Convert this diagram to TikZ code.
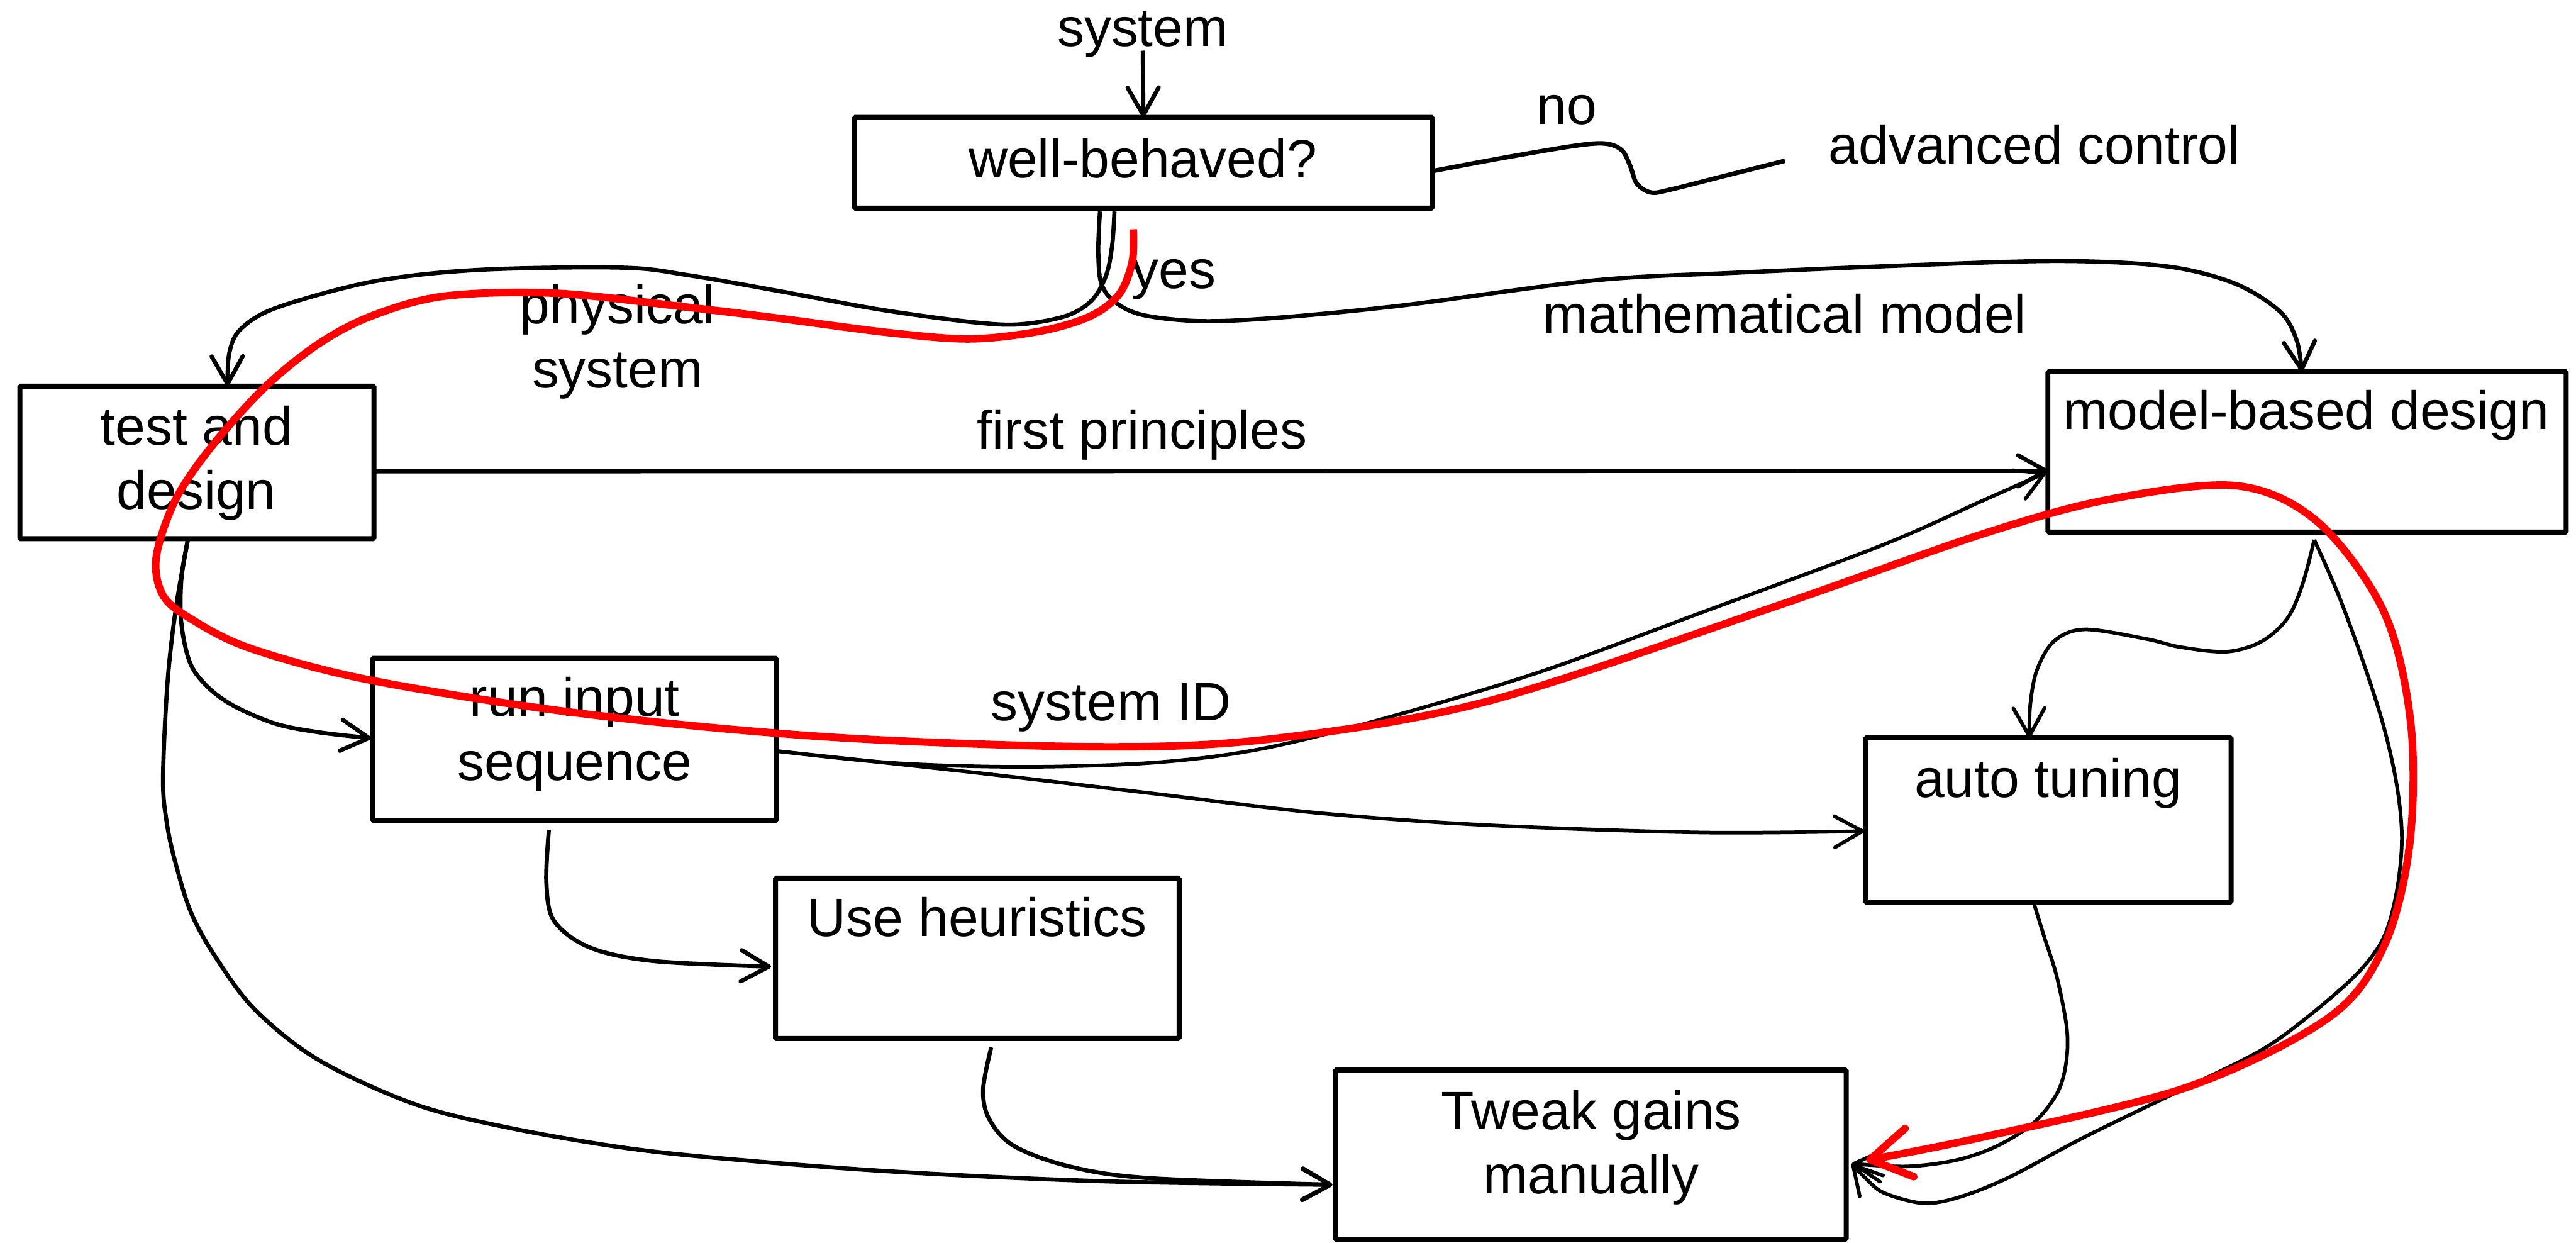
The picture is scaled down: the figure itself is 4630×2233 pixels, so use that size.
\documentclass[tikz,border=0pt]{standalone}
\usepackage{fontspec}
\setmainfont{Liberation Sans}
\usetikzlibrary{arrows.meta,calc}
\begin{document}
\begin{tikzpicture}[x=0.01cm,y=-0.01cm,
  box/.style={draw, line width=0.09cm, rounded corners=0.02cm, inner sep=0pt, outer sep=0pt},
  lbl/.style={font=\fontsize{27.6}{33}\selectfont, inner sep=0pt, anchor=base},
  conn/.style={line width=0.075cm, line join=round, -{Straight Barb[round,length=0.5cm,width=0.56cm]}},
  thinconn/.style={conn, line width=0.065cm},
  wire/.style={line width=0.08cm, line join=round},
  redconn/.style={draw=red, line width=0.135cm, line join=round, -{Straight Barb[round,length=0.72cm,width=0.88cm]}},
  smoothy/.style={smooth, tension=0.55}
]
\useasboundingbox (0,0) rectangle (4630,2233);

% boxes
\node[box, minimum width=10.38cm, minimum height=1.63cm] (wb)  at (2055,292.5) {};
\node[box, minimum width=6.36cm,  minimum height=2.74cm] (td)  at (354,831) {};
\node[box, minimum width=9.31cm,  minimum height=2.88cm] (mbd) at (4146.5,812) {};
\node[box, minimum width=6.57cm,  minimum height=2.95cm] (aut) at (3681.5,1473.5) {};
\node[box, minimum width=7.25cm,  minimum height=2.91cm] (ris) at (1032.5,1328.5) {};
\node[box, minimum width=7.25cm,  minimum height=2.88cm] (uh)  at (1756.5,1722) {};
\node[box, minimum width=9.18cm,  minimum height=3.04cm] (tg)  at (2859,2075) {};

% texts
\node[lbl] (tsys) at (2054,83) {system};
\node[lbl] (twb) at (2054,319) {well-behaved?};
\node[lbl] (tno) at (2816,223) {no};
\node[lbl, anchor=base west] (tadv) at (3286,294) {advanced control};
\node[lbl] (tyes) at (2110,518) {yes};
\node[lbl] (tmath) at (3208,598) {mathematical model};
\node[lbl] (tphys1) at (1110,582) {physical};
\node[lbl] (tphys2) at (1110,697) {system};
\node[lbl] (ttd1) at (353,800) {test and};
\node[lbl] (ttd2) at (353,915) {design};
\node[lbl] (tfp) at (2053,807) {first principles};
\node[lbl] (tmbd) at (4145,772) {model-based design};
\node[lbl] (tris1) at (1033,1287) {run input};
\node[lbl] (tris2) at (1033,1402) {sequence};
\node[lbl] (tsid) at (1997,1295) {system ID};
\node[lbl] (taut) at (3681,1433) {auto tuning};
\node[lbl] (tuh) at (1756,1682) {Use heuristics};
\node[lbl] (ttg1) at (2860,2030) {Tweak gains};
\node[lbl] (ttg2) at (2860,2145) {manually};

% anchor coordinates
\coordinate (sysS) at ($(tsys.base)+(0,8)$);
\coordinate (wbL) at ($(wb.south)+(-52,6)$);
\coordinate (wbR) at ($(wb.south)+(-78,6)$);
\coordinate (wbE) at ($(wb.east)+(0,15)$);
\coordinate (noend) at (3208,289);
\coordinate (tdN) at ($(td.north)+(55,0)$);
\coordinate (mbdN) at ($(mbd.north)+(-9.5,0)$);
\coordinate (tdE) at ($(td.east)+(0,16)$);
\coordinate (mbdW1) at ($(mbd.west)+(0,34)$);
\coordinate (mbdW2) at ($(mbd.west)+(-3,37)$);
\coordinate (risE) at ($(ris.east)+(0,21)$);
\coordinate (autW) at ($(aut.west)+(-2,20)$);
\coordinate (tdS) at ($(td.south)+(-16,0)$);
\coordinate (risW) at ($(ris.west)+(-3,-2)$);
\coordinate (tgW) at ($(tg.west)+(-5,54)$);
\coordinate (risS) at ($(ris.south)+(-46,17)$);
\coordinate (uhW) at ($(uh.west)+(-8,15)$);
\coordinate (uhS) at ($(uh.south)+(25,16)$);
\coordinate (mbdS) at ($(mbd.south)+(13,14)$);
\coordinate (autN) at ($(aut.north)+(-34,0)$);
\coordinate (autS) at ($(aut.south)+(-25,5)$);
\coordinate (tgE) at ($(tg.east)+(10,16)$);
\coordinate (redS) at ($(wb.south)+(-18,38)$);
\coordinate (tgE2) at ($(tg.east)+(36,10)$);

% system -> well-behaved?
\draw[conn] (sysS) -- (wb.north);

% no -> advanced control
\draw[wire] plot[smoothy] coordinates {(wbE) (2700,284) (2830,262) (2885,258) (2915,270) (2930,298) (2942,330) (2968,346) (3005,340) (3100,316) (noend)};

% yes -> physical system -> test and design
\draw[conn] plot[smoothy] coordinates {(wbL) (1999,440) (1988,495) (1962,540) (1915,568) (1830,583) (1740,578) (1580,556) (1400,523) (1240,495) (1119,481) (860,485) (670,506) (497,553) (432,592) (412,635) (tdN)};

% yes -> mathematical model -> model-based design
\draw[conn] plot[smoothy] coordinates {(wbR) (1974,450) (1979,508) (2003,542) (2054,566) (2158,577) (2295,571) (2519,549) (2864,504) (3122,490) (3450,476) (3708,469) (3897,479) (4018,510) (4098,560) (4128,612) (mbdN)};

% first principles
\draw[conn] (tdE) -- (mbdW1);

% system ID
\draw[thinconn] plot[smoothy] coordinates {(risE) (1606,1371) (1836,1378) (2065,1371) (2249,1349) (2448,1302) (2754,1212) (3060,1100) (3382,980) (3565,899) (mbdW2)};

% run input -> auto tuning
\draw[thinconn] plot[smoothy] coordinates {(risE) (1759,1389) (2065,1425) (2371,1461) (2678,1483) (3060,1496) (autW)};

% test and design -> run input sequence
\draw[conn] plot[smoothy] coordinates {(tdS) (326,1040) (326,1120) (342,1192) (375,1236) (423,1270) (497,1301) (574,1316) (risW)};

% test and design -> tweak gains
\draw[conn] plot[smoothy] coordinates {(tdS) (316,1094) (301,1227) (293,1400) (300,1480) (315,1549) (343,1639) (387,1719) (458,1814) (573,1905) (745,1984) (917,2027) (1133,2064) (1348,2086) (1635,2107) (1994,2123) (tgW)};

% run input -> use heuristics
\draw[conn] plot[smoothy] coordinates {(risS) (982,1586) (996,1655) (1061,1703) (1176,1727) (uhW)};

% use heuristics -> tweak gains
\draw[conn] plot[smoothy] coordinates {(uhS) (1767,1958) (1778,2011) (1822,2059) (1922,2096) (2065,2117) (tgW)};

% model-based design -> auto tuning
\draw[thinconn] plot[smoothy] coordinates {(mbdS) (4139,1048) (4112,1110) (4066,1152) (4003,1171) (3920,1163) (3857,1148) (3747,1131) (3692,1152) (3661,1204) (3649,1267) (autN)};

% model-based design -> tweak gains
\draw[thinconn] plot[smoothy] coordinates {(mbdS) (4203,1069) (4249,1194) (4285,1308) (4308,1412) (4317,1506) (4308,1600) (4285,1683) (4240,1746) (4158,1819) (4066,1886) (3930,1954) (3747,2043) (3610,2116) (3519,2152) (3455,2162) (3385,2143) (3352,2116) (tgE)};

% auto tuning -> tweak gains
\draw[thinconn] plot[smoothy] coordinates {(autS) (3674,1683) (3697,1756) (3715,1850) (3713,1913) (3697,1965) (3656,2017) (3592,2058) (3519,2084) (3428,2096) (tgE)};

% red path
\draw[redconn] plot[smoothy] coordinates {(redS) (2035,470) (2012,528) (1960,568) (1870,595) (1744,609) (1600,598) (1400,572) (1244,553) (1000,527) (800,532) (670,567) (574,617) (478,694) (383,799) (316,897) (281,1000) (292,1068) (340,1110) (450,1165) (670,1223) (1052,1283) (1500,1325) (1989,1342) (2300,1326) (2678,1259) (3190,1090) (3565,959) (3793,897) (4021,873) (4167,939) (4285,1100) (4333,1300) (4331,1517) (4285,1700) (4185,1829) (3930,1954) (3565,2043) (tgE2)};

\end{tikzpicture}
\end{document}
